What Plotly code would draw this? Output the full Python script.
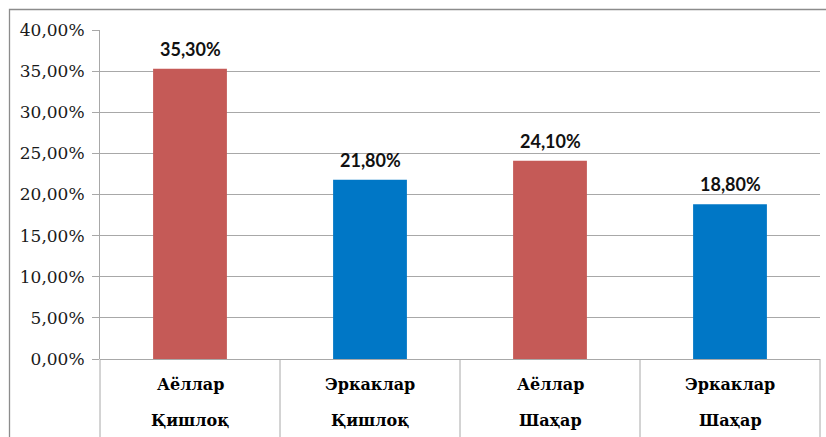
import plotly.graph_objects as go

# Share of respondents by gender and settlement type
groups = ["Аёллар", "Эркаклар", "Аёллар", "Эркаклар"]
places = ["Қишлоқ", "Қишлоқ", "Шаҳар", "Шаҳар"]
shares = [0.353, 0.218, 0.241, 0.188]
bar_colors = ["#C55A57", "#0077C6", "#C55A57", "#0077C6"]

W, H = 826, 437
M_L, M_R, M_T, M_B = 100, 6, 30, 78
plot_h = H - M_T - M_B
plot_w = W - M_L - M_R

SERIF = "DejaVu Serif"

def py(pixel_y):
    """Convert a pixel row to a paper y coordinate."""
    return (H - M_B - pixel_y) / plot_h

def px(pixel_x):
    """Convert a pixel column to a paper x coordinate."""
    return (pixel_x - M_L) / plot_w

xs = list(range(len(shares)))

fig = go.Figure(
    go.Bar(
        x=xs,
        y=shares,
        width=0.41,
        marker=dict(color=bar_colors, line=dict(width=0)),
        hoverinfo="skip",
    )
)

grid = "#A8A8A8"

annotations = []
# value labels above the bars
for x, v in zip(xs, shares):
    annotations.append(dict(
        x=x, y=v, xref="x", yref="y",
        text=f"{v * 100:.2f}%".replace(".", ","),
        showarrow=False, yanchor="bottom", yshift=7,
        font=dict(family="Lato", size=18, color="#111111", weight="bold"),
    ))
# two-level category labels under the axis
for x, g, p in zip(xs, groups, places):
    annotations.append(dict(
        x=x, y=py(384), xref="x", yref="paper", text=f"<b>{g}</b>",
        showarrow=False, yanchor="middle",
        font=dict(family=SERIF, size=16, color="#000000"),
    ))
    annotations.append(dict(
        x=x, y=py(420), xref="x", yref="paper", text=f"<b>{p}</b>",
        showarrow=False, yanchor="middle",
        font=dict(family=SERIF, size=16, color="#000000"),
    ))

shapes = []
# category separators running below the baseline
n = len(shares)
for i in range(n + 1):
    shapes.append(dict(
        type="line", xref="paper", yref="paper",
        x0=i / n, x1=i / n, y0=py(H + 5), y1=0,
        line=dict(color=grid, width=1),
    ))
# outer chart border
shapes.append(dict(
    type="rect", xref="paper", yref="paper",
    x0=px(9.5), x1=px(W + 5), y0=py(H + 5), y1=py(9.5),
    line=dict(color="#8C8C8C", width=1.3),
))

fig.update_layout(
    width=W, height=H,
    margin=dict(l=M_L, r=M_R, t=M_T, b=M_B),
    paper_bgcolor="white", plot_bgcolor="white",
    separators=", ",
    showlegend=False,
    font=dict(family=SERIF),
    annotations=annotations,
    shapes=shapes,
    xaxis=dict(
        range=[-0.5, n - 0.5],
        showticklabels=False, showgrid=False, zeroline=False,
        showline=False, fixedrange=True,
    ),
    yaxis=dict(
        range=[0, 0.4], dtick=0.05, tickformat=".2%",
        showgrid=True, gridcolor=grid, gridwidth=1,
        zeroline=True, zerolinecolor=grid, zerolinewidth=1,
        showline=True, linecolor=grid, linewidth=1,
        ticks="outside", ticklen=7, tickcolor=grid,
        ticklabelstandoff=4,
        tickfont=dict(family=SERIF, size=17, color="#1a1a1a"),
        fixedrange=True,
    ),
)

fig.write_html("out.html", config={"displayModeBar": False})
